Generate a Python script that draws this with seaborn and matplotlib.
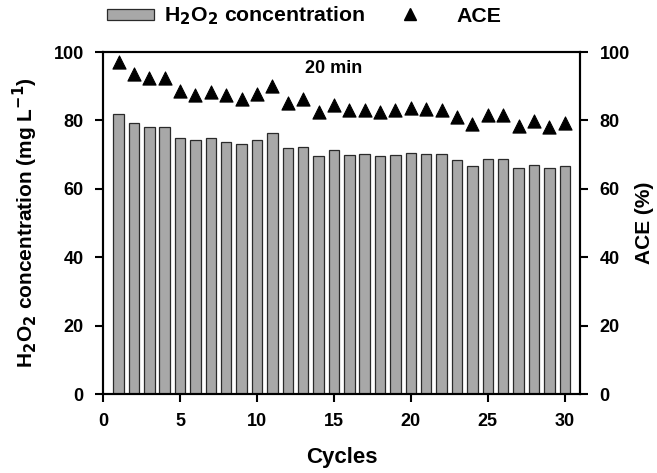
import matplotlib
matplotlib.use('Agg')
import matplotlib.pyplot as plt
import seaborn as sns
import pandas as pd
from matplotlib.lines import Line2D
from matplotlib.patches import Patch

cycles = list(range(1, 31))
h2o2 = [82.0, 79.2, 78.0, 78.0, 75.0, 74.2, 74.8, 73.8, 73.0, 74.2,
        76.3, 71.8, 72.2, 69.6, 71.3, 70.0, 70.1, 69.5, 70.0, 70.5,
        70.3, 70.1, 68.3, 66.8, 68.6, 68.6, 66.1, 67.0, 66.0, 66.7]
ace = [97.0, 93.7, 92.3, 92.3, 88.5, 87.4, 88.2, 87.3, 86.4, 87.7,
       90.2, 85.0, 86.2, 82.5, 84.5, 83.0, 83.0, 82.5, 83.0, 83.5,
       83.3, 83.0, 81.0, 79.0, 81.5, 81.5, 78.3, 79.7, 78.0, 79.3]

sns.set_style('ticks')
plt.rcParams['font.family'] = ['Liberation Sans', 'DejaVu Sans']
plt.rcParams['font.weight'] = 'bold'
plt.rcParams['axes.labelweight'] = 'bold'
for k in ('text.color', 'axes.labelcolor', 'xtick.color', 'ytick.color',
          'xtick.labelcolor', 'ytick.labelcolor'):
    plt.rcParams[k] = 'black'

df = pd.DataFrame({'cycle': cycles, 'h2o2': h2o2, 'ace': ace})

fig = plt.figure(figsize=(6.57, 4.73), dpi=100)
ax = fig.add_axes([0.157, 0.167, 0.726, 0.723])

sns.barplot(data=df, x='cycle', y='h2o2', native_scale=True, width=0.68,
            color='#a8a8a8', edgecolor='#2a2a2a', linewidth=0.9, saturation=1, ax=ax)
ax.set_xlim(0, 31)
ax.set_ylim(0, 100)
ax.set_xticks([0, 5, 10, 15, 20, 25, 30])
ax.set_yticks([0, 20, 40, 60, 80, 100])
ax.set_xlabel('Cycles', fontsize=16, fontweight='bold', labelpad=12)
ax.set_ylabel('H$_\\mathbf{2}$O$_\\mathbf{2}$ concentration (mg L$^{\\mathbf{-1}}$)',
              fontsize=15, fontweight='bold', labelpad=10)
ax.tick_params(labelsize=13, width=1.5, length=6, direction='out', pad=8)

ax2 = ax.twinx()
sns.scatterplot(data=df, x='cycle', y='ace', marker='^', color='black', s=90,
                edgecolor='black', ax=ax2)
ax2.set_ylim(0, 100)
ax2.set_yticks([0, 20, 40, 60, 80, 100])
ax2.set_ylabel('ACE (%)', fontsize=15, fontweight='bold', labelpad=4)
ax2.tick_params(labelsize=13, width=1.5, length=6, direction='out', pad=8)
ax2.set_xlim(0, 31)

for a in (ax, ax2):
    for sp in a.spines.values():
        sp.set_linewidth(1.5)
        sp.set_color('black')
        sp.set_visible(True)

ax.text(15, 95.3, '20 min', ha='center', va='center', fontsize=13, fontweight='bold')

# legend split in two so the spacing can match the original
bar_handle = Patch(facecolor='#a8a8a8', edgecolor='#2a2a2a', linewidth=0.9)
tri_handle = Line2D([], [], marker='^', color='black', linestyle='none', markersize=8)
fig.legend([bar_handle], ['H$_\\mathbf{2}$O$_\\mathbf{2}$ concentration'],
           loc='center left', bbox_to_anchor=(0.163, 0.966), frameon=False,
           handlelength=2.2, handletextpad=0.5, handleheight=0.45,
           borderpad=0, borderaxespad=0, prop={'weight': 'bold', 'size': 15.3})
fig.legend([tri_handle], ['ACE'], loc='center left', bbox_to_anchor=(0.614, 0.966),
           frameon=False, handlelength=0.6, handletextpad=1.9,
           borderpad=0, borderaxespad=0, prop={'weight': 'bold', 'size': 15.3})

fig.savefig('out.png', dpi=100)
